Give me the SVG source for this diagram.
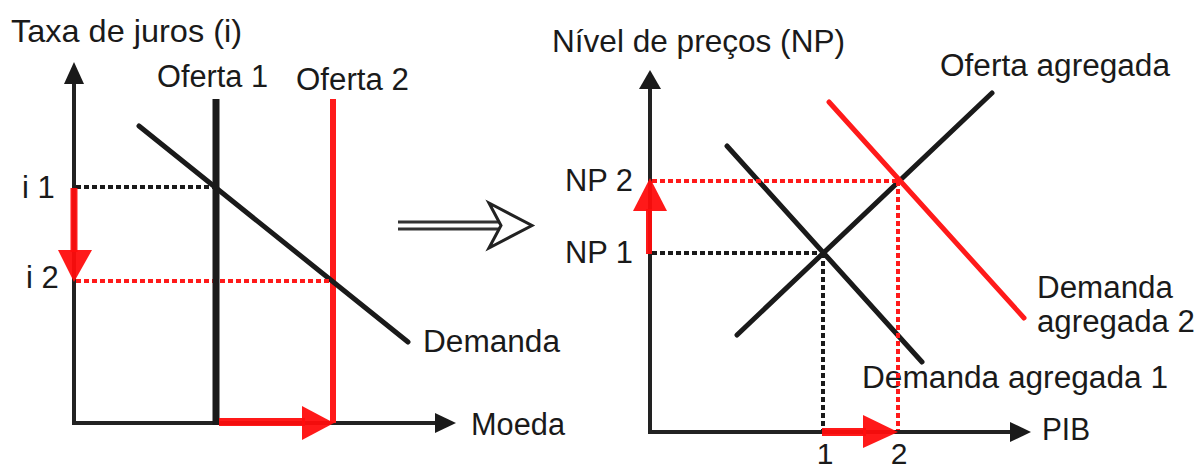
<svg xmlns="http://www.w3.org/2000/svg" width="1201" height="471" viewBox="0 0 1201 471">
<style>
  text { font-family: "Liberation Sans", Arial, sans-serif; font-size: 31px; fill: #1a1a1a; }
  .title { font-size: 32px; }
  .tick { font-size: 30px; }
  .axis { stroke: #222; stroke-width: 4; fill: none; }
  .head { fill: #1a1a1a; }
  .blk { stroke: #1a1a1a; stroke-width: 5; stroke-linecap: round; fill: none; }
  .red { stroke: #ff1a1a; stroke-width: 5; stroke-linecap: round; fill: none; }
  .dotk { stroke: #1a1a1a; stroke-width: 4; stroke-dasharray: 5 3; fill: none; }
  .dotr { stroke: #ff1a1a; stroke-width: 4; stroke-dasharray: 5 3; fill: none; }
  .rarrow { stroke: #ff0d0d; stroke-width: 7; fill: none; opacity: 0.95; }
  .rhead { fill: #ff0d0d; opacity: 0.95; }
</style>
<rect width="1201" height="471" fill="#ffffff"/>

<!-- Left chart labels -->
<g id="left-labels">
  <text class="title" x="11" y="42" textLength="231" lengthAdjust="spacingAndGlyphs">Taxa de juros (i)</text>
  <text x="157" y="87" textLength="111" lengthAdjust="spacingAndGlyphs">Oferta 1</text>
  <text x="296" y="90" textLength="113" lengthAdjust="spacingAndGlyphs">Oferta 2</text>
  <text x="22" y="198">i 1</text>
  <text x="26" y="288">i 2</text>
  <text x="423" y="352" textLength="137" lengthAdjust="spacingAndGlyphs">Demanda</text>
  <text x="471" y="435" textLength="94" lengthAdjust="spacingAndGlyphs">Moeda</text>
</g>

<!-- Right chart labels -->
<g id="right-labels">
  <text class="title" x="552" y="52" textLength="293" lengthAdjust="spacingAndGlyphs">Nível de preços (NP)</text>
  <text x="940" y="76" textLength="230" lengthAdjust="spacingAndGlyphs">Oferta agregada</text>
  <text x="565" y="191" textLength="68" lengthAdjust="spacingAndGlyphs">NP 2</text>
  <text x="565" y="263" textLength="68" lengthAdjust="spacingAndGlyphs">NP 1</text>
  <text x="1037" y="298" textLength="136" lengthAdjust="spacingAndGlyphs">Demanda</text>
  <text x="1037" y="332" textLength="158" lengthAdjust="spacingAndGlyphs">agregada 2</text>
  <text x="862" y="388" textLength="306" lengthAdjust="spacingAndGlyphs">Demanda agregada 1</text>
  <text x="1042" y="440" textLength="48" lengthAdjust="spacingAndGlyphs">PIB</text>
  <text class="tick" x="825" y="464" text-anchor="middle">1</text>
  <text class="tick" x="899" y="464" text-anchor="middle">2</text>
</g>

<!-- Left chart -->
<g id="left-chart">
  <line class="axis" x1="74" y1="425" x2="74" y2="80"/>
  <polygon class="head" points="74,62 64,84 84,84"/>
  <line class="axis" x1="72" y1="423" x2="438" y2="423"/>
  <polygon class="head" points="456,423 435,413 435,433"/>
  <line class="red" x1="333" y1="99" x2="333" y2="423" style="stroke-width:6;stroke-linecap:butt"/>
  <line class="blk" x1="139" y1="126" x2="408" y2="342"/>
  <line class="dotk" x1="76" y1="187" x2="213" y2="187"/>
  <line class="dotr" x1="76" y1="281" x2="331" y2="281"/>
  <line x1="216" y1="99" x2="216" y2="425" stroke="#1a1a1a" stroke-width="7"/>
  <line class="rarrow" x1="74" y1="188" x2="74" y2="252"/>
  <polygon class="rhead" points="58,250 92,250 74,282"/>
  <line class="rarrow" x1="219" y1="422" x2="305" y2="422" style="stroke-width:8"/>
  <polygon class="rhead" points="302,406 302,440 334,423"/>
</g>

<!-- Transition arrow -->
<g id="transition">
  <line x1="398" y1="222" x2="500" y2="222" stroke="#333" stroke-width="3"/>
  <line x1="398" y1="229" x2="500" y2="229" stroke="#333" stroke-width="3"/>
  <path d="M489,203 L532,225.5 L489,248 L501,225.5 Z" fill="#ffffff" stroke="#222" stroke-width="3" stroke-linejoin="miter"/>
</g>

<!-- Right chart -->
<g id="right-chart">
  <line class="axis" x1="650" y1="434" x2="650" y2="86"/>
  <polygon class="head" points="650,70 639,89 661,89"/>
  <line class="axis" x1="648" y1="432" x2="1013" y2="432"/>
  <polygon class="head" points="1031,432 1010,422 1010,442"/>
  <line class="blk" x1="737" y1="335" x2="992" y2="93"/>
  <line class="blk" x1="727" y1="146" x2="922" y2="362"/>
  <line class="red" x1="829" y1="102" x2="1024" y2="318"/>
  <line class="dotk" x1="652" y1="253" x2="823" y2="253"/>
  <line class="dotk" x1="823" y1="253" x2="823" y2="430"/>
  <line class="dotr" x1="652" y1="181" x2="898" y2="181"/>
  <line class="dotr" x1="898" y1="181" x2="898" y2="430"/>
  <line class="rarrow" x1="649" y1="254" x2="649" y2="209" style="stroke-width:6"/>
  <polygon class="rhead" points="633,211 667,211 650,178"/>
  <line class="rarrow" x1="822" y1="432" x2="866" y2="432" style="stroke-width:8"/>
  <polygon class="rhead" points="863,415 863,448 898,432"/>
</g>
</svg>
